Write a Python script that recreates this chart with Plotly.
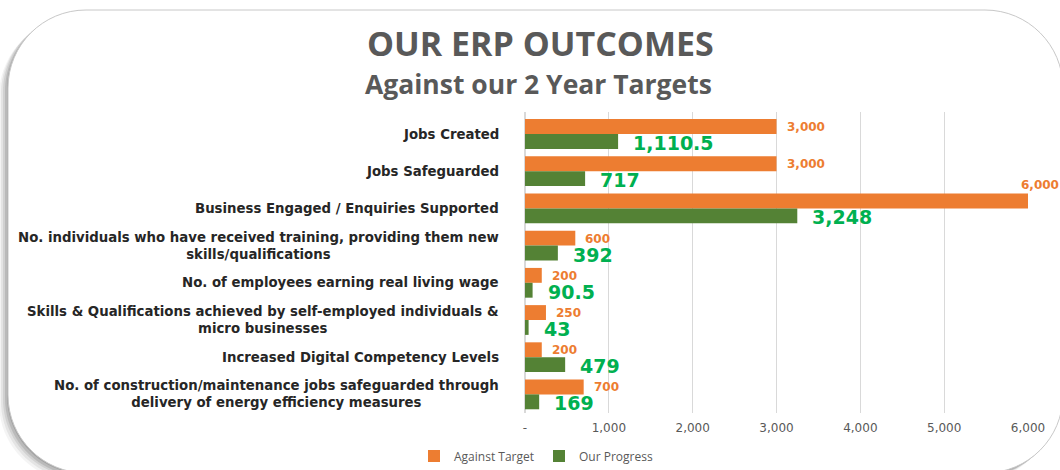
import plotly.graph_objects as go

# ---- data -------------------------------------------------------------
categories = [
    "Jobs Created",
    "Jobs Safeguarded",
    "Business Engaged / Enquiries Supported",
    "No. individuals who have received training, providing them new<br>skills/qualifications",
    "No. of employees earning real living wage",
    "Skills & Qualifications achieved by self-employed individuals &<br>micro businesses",
    "Increased Digital Competency Levels",
    "No. of construction/maintenance jobs safeguarded through<br>delivery of energy efficiency measures",
]
against_target = [3000, 3000, 6000, 600, 200, 250, 200, 700]
our_progress = [1110.5, 717, 3248, 392, 90.5, 43, 479, 169]

tick_values = [0, 1000, 2000, 3000, 4000, 5000, 6000]
tick_labels = ["-", "1,000", "2,000", "3,000", "4,000", "5,000", "6,000"]

# ---- styling ----------------------------------------------------------
W, H = 1060, 470
ML, MR, MT, MB = 525, 32, 112, 57
PW, PH = W - ML - MR, H - MT - MB
ORANGE = "#ED7D31"
GREEN_BAR = "#548235"
GREEN_TXT = "#00B050"
GREY = "#595959"
TITLE_FONT = "Open Sans"
FONT = "DejaVu Sans"
X_MAX = 6000


def px_x(x):
    return (x - ML) / PW


def px_y(y):
    return 1 - (y - MT) / PH


def fmt(v):
    return f"{v:,.1f}" if v != int(v) else f"{int(v):,}"


def rounded_path(x0, y0, x1, y1, r):
    k = 0.5523 * r
    pts = [
        ("M", [(x0 + r, y0)]),
        ("L", [(x1 - r, y0)]),
        ("C", [(x1 - r + k, y0), (x1, y0 + r - k), (x1, y0 + r)]),
        ("L", [(x1, y1 - r)]),
        ("C", [(x1, y1 - r + k), (x1 - r + k, y1), (x1 - r, y1)]),
        ("L", [(x0 + r, y1)]),
        ("C", [(x0 + r - k, y1), (x0, y1 - r + k), (x0, y1 - r)]),
        ("L", [(x0, y0 + r)]),
        ("C", [(x0, y0 + r - k), (x0 + r - k, y0), (x0 + r, y0)]),
    ]
    out = []
    for cmd, coords in pts:
        out.append(cmd + " " + " ".join(f"{px_x(a):.5f},{px_y(b):.5f}" for a, b in coords))
    return " ".join(out) + " Z"


fig = go.Figure()
fig.add_trace(go.Bar(
    y=categories, x=against_target, orientation="h", name="Against Target",
    marker=dict(color=ORANGE, line=dict(width=0)),
))
fig.add_trace(go.Bar(
    y=categories, x=our_progress, orientation="h", name="Our Progress",
    marker=dict(color=GREEN_BAR, line=dict(width=0)),
))

# card frame with a soft shadow towards the lower left
FX0, FY0, FX1, FY1, FR = 8, 10, 1063, 473, 78
shapes = []
for dx, dy, op in [(-9, 8, 0.06), (-7, 6, 0.09), (-5, 4, 0.12), (-3, 3, 0.16), (-1, 1, 0.2)]:
    shapes.append(dict(
        type="path", xref="paper", yref="paper", layer="below",
        path=rounded_path(FX0 + dx, FY0 + dy, FX1 + dx, FY1 + dy, FR),
        fillcolor=f"rgba(70,70,70,{op})", line=dict(width=0),
    ))
shapes.append(dict(
    type="path", xref="paper", yref="paper", layer="below",
    path=rounded_path(FX0, FY0, FX1, FY1, FR),
    fillcolor="white", line=dict(color="#C8C8C8", width=1),
))

annotations = []
# titles
annotations.append(dict(
    text="<b>OUR ERP OUTCOMES</b>", x=px_x(540), y=px_y(42.5), xref="paper", yref="paper",
    xanchor="center", yanchor="middle", showarrow=False, borderpad=0,
    font=dict(family=TITLE_FONT, size=34, color=GREY),
))
annotations.append(dict(
    text="<b>Against our 2 Year Targets</b>", x=px_x(538), y=px_y(84), xref="paper", yref="paper",
    xanchor="center", yanchor="middle", showarrow=False, borderpad=0,
    font=dict(family=TITLE_FONT, size=26.5, color=GREY),
))
# category labels, centred lines, right edge next to the axis
for c in categories:
    annotations.append(dict(
        text=f"<b>{c}</b>", x=0, y=c, xref="paper", yref="y",
        xanchor="right", yanchor="middle", align="center", xshift=-24, showarrow=False,
        font=dict(family=FONT, size=13.3, color="#262626"),
    ))
# value labels
for c, v in zip(categories, against_target):
    if v >= X_MAX:
        a = dict(xanchor="right", xshift=33, yshift=23)
    else:
        a = dict(xanchor="left", xshift=8, yshift=7)
    annotations.append(dict(
        text=f"<b>{fmt(v)}</b>", x=v, y=c, xref="x", yref="y", yanchor="middle",
        showarrow=False, font=dict(family=FONT, size=12, color=ORANGE), **a,
    ))
for c, v in zip(categories, our_progress):
    annotations.append(dict(
        text=f"<b>{fmt(v)}</b>", x=v, y=c, xref="x", yref="y", xanchor="left", yanchor="middle",
        xshift=13, yshift=-9, showarrow=False,
        font=dict(family=FONT, size=19, color=GREEN_TXT),
    ))

fig.update_layout(
    width=W, height=H,
    margin=dict(l=ML, r=MR, t=MT, b=MB, autoexpand=False),
    paper_bgcolor="white", plot_bgcolor="rgba(0,0,0,0)",
    barmode="group", bargap=0.2, bargroupgap=0,
    showlegend=True,
    legend=dict(
        orientation="h", xref="container", yref="container",
        x=536 / W, y=1 - 456 / H, xanchor="center", yanchor="middle",
        font=dict(family=TITLE_FONT, size=12, color=GREY), bgcolor="rgba(0,0,0,0)",
        traceorder="normal",
    ),
    shapes=shapes, annotations=annotations,
    font=dict(family=FONT),
)
fig.update_xaxes(
    range=[0, X_MAX], tickvals=tick_values, ticktext=tick_labels,
    showgrid=True, gridcolor="#D9D9D9", gridwidth=1, zeroline=True, zerolinecolor="#D9D9D9",
    showline=False, ticks="", ticklabelstandoff=6,
    tickfont=dict(family=FONT, size=12, color=GREY),
)
fig.update_yaxes(
    autorange="reversed", showticklabels=False, showgrid=False, showline=False, ticks="",
)

fig.write_html("out.html")
